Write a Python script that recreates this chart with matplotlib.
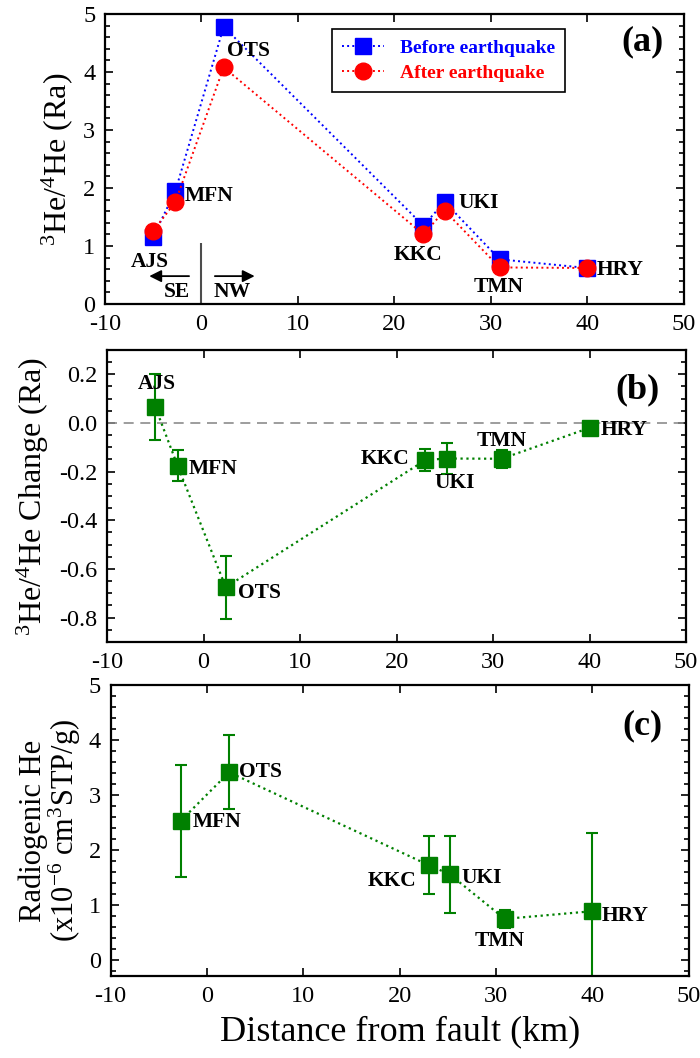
import matplotlib
matplotlib.use('Agg')
import matplotlib.pyplot as plt
from matplotlib.ticker import MultipleLocator

plt.rcParams['font.family'] = ['Liberation Serif', 'DejaVu Serif']
plt.rcParams['mathtext.fontset'] = 'custom'
plt.rcParams['mathtext.rm'] = 'Liberation Serif'
plt.rcParams['mathtext.it'] = 'Liberation Serif:italic'
plt.rcParams['mathtext.bf'] = 'Liberation Serif:bold'
plt.rcParams['axes.unicode_minus'] = False

# stations and distance from fault (km)
stations = ['AJS', 'MFN', 'OTS', 'KKC', 'UKI', 'TMN', 'HRY']
dist = [-5.0, -2.7, 2.3, 23.0, 25.2, 30.9, 40.0]

# (a) 3He/4He ratio (Ra)
ratio_before = [1.16, 1.95, 4.78, 1.35, 1.76, 0.77, 0.62]
ratio_after = [1.26, 1.76, 4.08, 1.20, 1.61, 0.63, 0.62]

# (b) change in 3He/4He (Ra)
change = [0.065, -0.175, -0.675, -0.152, -0.146, -0.147, -0.02]
change_err = [0.135, 0.065, 0.13, 0.045, 0.065, 0.036, 0.01]

# (c) radiogenic He (x10-6 cm3STP/g), no value for AJS
rad_stations = ['MFN', 'OTS', 'KKC', 'UKI', 'TMN', 'HRY']
rad_dist = [-2.7, 2.3, 23.0, 25.2, 30.9, 40.0]
rad_he = [2.53, 3.41, 1.72, 1.55, 0.74, 0.88]
rad_err = [1.02, 0.67, 0.53, 0.70, 0.17, 1.43]

green = '#008000'
lab = dict(fontsize=15.5, fontweight='bold')

# label positions (data coords, ha)
pos_a = {'AJS': (-5.4, 0.73, 'center'), 'MFN': (-1.7, 1.86, 'left'),
         'OTS': (2.6, 4.37, 'left'), 'KKC': (22.4, 0.84, 'center'),
         'UKI': (26.6, 1.74, 'left'), 'TMN': (30.8, 0.30, 'center'),
         'HRY': (41.0, 0.58, 'left')}
pos_b = {'AJS': (-4.9, 0.16, 'center'), 'MFN': (-1.5, -0.19, 'left'),
         'OTS': (3.6, -0.70, 'left'), 'KKC': (21.3, -0.147, 'right'),
         'UKI': (26.0, -0.245, 'center'), 'TMN': (30.9, -0.073, 'center'),
         'HRY': (41.2, -0.03, 'left')}
pos_c = {'MFN': (-1.5, 2.5, 'left'), 'OTS': (3.3, 3.42, 'left'),
         'KKC': (19.2, 1.43, 'center'), 'UKI': (26.4, 1.48, 'left'),
         'TMN': (30.4, 0.34, 'center'), 'HRY': (41.0, 0.79, 'left')}

fig = plt.figure(figsize=(7, 10.58), dpi=100)
ax1 = fig.add_axes([0.150, 0.7127, 0.827, 0.2741])
ax2 = fig.add_axes([0.153, 0.3932, 0.827, 0.2760])
ax3 = fig.add_axes([0.158, 0.0775, 0.826, 0.2751])


def style(ax, minor):
    ax.set_xlim(-10, 50)
    ax.xaxis.set_major_locator(MultipleLocator(10))
    ax.yaxis.set_minor_locator(MultipleLocator(minor))
    ax.tick_params(which='both', direction='in', top=True, right=True,
                   labelsize=17.5, width=1.2)
    ax.tick_params(which='major', length=6, pad=7)
    ax.tick_params(which='minor', length=3.5)
    ax.tick_params(axis='x', which='minor', top=False, bottom=False)
    for s in ax.spines.values():
        s.set_linewidth(1.6)


# ---- (a)
ax1.plot(dist, ratio_before, ':', color='blue', lw=1.4, marker='s', ms=11,
         label='Before earthquake')
ax1.plot(dist, ratio_after, ':', color='red', lw=1.4, marker='o', ms=12,
         label='After earthquake')
ax1.set_ylim(0, 5)
style(ax1, 0.2)
ax1.set_ylabel(r'$^{3}$He/$^{4}$He (Ra)', fontsize=23, labelpad=6)
for s in stations:
    x, y, ha = pos_a[s]
    ax1.text(x, y, s, ha=ha, va='center', **lab)
ax1.vlines(0, 0, 1.05, color='0.3', lw=1.5)
ax1.annotate('', xy=(-5.7, 0.48), xytext=(-1.0, 0.48),
             arrowprops=dict(arrowstyle='-|>', color='black', lw=1.3,
                             mutation_scale=18))
ax1.annotate('', xy=(5.8, 0.48), xytext=(1.1, 0.48),
             arrowprops=dict(arrowstyle='-|>', color='black', lw=1.3,
                             mutation_scale=18))
ax1.text(-2.6, 0.20, 'SE', ha='center', va='center', **lab)
ax1.text(3.2, 0.20, 'NW', ha='center', va='center', **lab)
leg = ax1.legend(loc='upper left', bbox_to_anchor=(0.375, 0.98),
                 fancybox=False, edgecolor='black', framealpha=1,
                 handlelength=2.2, borderpad=0.5, labelspacing=0.4,
                 prop=dict(family='Liberation Serif', weight='bold', size=14))
leg.get_frame().set_linewidth(1.2)
for t, c in zip(leg.get_texts(), ['blue', 'red']):
    t.set_color(c)
ax1.text(0.965, 0.905, '(a)', transform=ax1.transAxes, ha='right',
         va='center', fontsize=26, fontweight='bold')

# ---- (b)
ax2.axhline(0, color='0.55', ls=(0, (6, 4)), lw=1.2)
ax2.errorbar(dist, change, yerr=change_err, fmt=':', color=green, lw=1.6,
             elinewidth=1.5, capsize=4, capthick=1.5, marker='s', ms=11)
ax2.set_ylim(-0.9, 0.3)
ax2.yaxis.set_major_locator(MultipleLocator(0.2))
ax2.yaxis.set_major_formatter(plt.FormatStrFormatter('%.1f'))
style(ax2, 0.05)
ax2.set_ylabel(r'$^{3}$He/$^{4}$He Change (Ra)', fontsize=23, labelpad=6)
for s in stations:
    x, y, ha = pos_b[s]
    ax2.text(x, y, s, ha=ha, va='center', **lab)
ax2.text(0.955, 0.865, '(b)', transform=ax2.transAxes, ha='right',
         va='center', fontsize=26, fontweight='bold')

# ---- (c)
ax3.errorbar(rad_dist, rad_he, yerr=rad_err, fmt=':', color=green, lw=1.6,
             elinewidth=1.5, capsize=4, capthick=1.5, marker='s', ms=11)
ax3.set_ylim(-0.3, 5)
ax3.yaxis.set_major_locator(MultipleLocator(1))
style(ax3, 0.2)
ax3.set_ylabel('Radiogenic He\n' + r'(x10$^{-6}$ cm$^{3}$STP/g)',
               fontsize=22, labelpad=4, linespacing=0.95)
for s in rad_stations:
    x, y, ha = pos_c[s]
    ax3.text(x, y, s, ha=ha, va='center', **lab)
ax3.text(0.955, 0.86, '(c)', transform=ax3.transAxes, ha='right',
         va='center', fontsize=26, fontweight='bold')
ax3.set_xlabel('Distance from fault (km)', fontsize=26, labelpad=6)

fig.savefig('out.png', dpi=100)
